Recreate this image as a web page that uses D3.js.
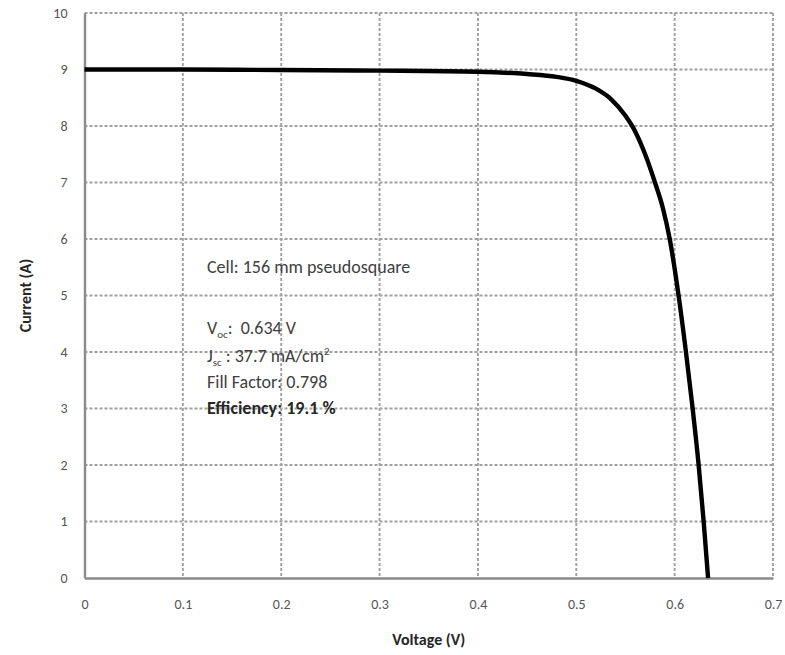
<!DOCTYPE html>
<html>
<head>
<meta charset="utf-8">
<script src="https://cdn.jsdelivr.net/npm/d3@7"></script>
<style>
  html, body { margin: 0; padding: 0; background: #fff; }
  svg { display: block; }
</style>
</head>
<body>
<svg id="chart" width="785" height="655"></svg>
<script>
// ---- data ----
const voltage = [0, 0.1, 0.2, 0.3, 0.4, 0.45, 0.48, 0.5, 0.52, 0.535, 0.55, 0.56, 0.57, 0.58, 0.588, 0.595, 0.604, 0.6115, 0.6183, 0.6244, 0.6295, 0.634];
const current = [9.0, 9.0, 8.99, 8.98, 8.96, 8.92, 8.87, 8.80, 8.66, 8.48, 8.18, 7.9, 7.5, 7.0, 6.55, 6.0, 5.0, 4.0, 3.0, 2.0, 1.0, 0.0];
const xTicks = [0, 0.1, 0.2, 0.3, 0.4, 0.5, 0.6, 0.7];
const yTicks = [0, 1, 2, 3, 4, 5, 6, 7, 8, 9, 10];
const xTitle = "Voltage (V)";
const yTitle = "Current (A)";

const svg = d3.select("#chart");
const font = "Carlito, Calibri, Lato, 'Open Sans', sans-serif";
const plot = { left: 84.5, right: 773, top: 13, bottom: 578 };

const x = d3.scaleLinear().domain([0, 0.7]).range([plot.left, plot.right]);
const y = d3.scaleLinear().domain([0, 10]).range([plot.bottom, plot.top]);

// gridlines
const grid = svg.append("g");
grid.selectAll("line.v").data(xTicks.filter(d => d > 0)).join("line")
  .attr("x1", d => x(d)).attr("x2", d => x(d))
  .attr("y1", plot.top).attr("y2", plot.bottom)
  .attr("stroke", "#a0a0a0").attr("stroke-width", 1.9)
  .attr("stroke-dasharray", "3,2");
grid.selectAll("line.h").data(yTicks.filter(d => d > 0)).join("line")
  .attr("y1", d => y(d)).attr("y2", d => y(d))
  .attr("x1", plot.left).attr("x2", plot.right)
  .attr("stroke", "#a0a0a0").attr("stroke-width", 1.9)
  .attr("stroke-dasharray", "3,2");

// axes
const xAxis = d3.axisBottom(x).tickValues(xTicks).tickFormat(d => d === 0 ? "0" : d3.format(".1f")(d)).tickSize(0).tickPadding(21);
const yAxis = d3.axisLeft(y).tickValues(yTicks).tickFormat(d3.format("d")).tickSize(0).tickPadding(17);

const gx = svg.append("g").attr("transform", `translate(0,${plot.bottom})`).call(xAxis);
const gy = svg.append("g").attr("transform", `translate(${plot.left},0)`).call(yAxis);
[gx, gy].forEach(g => {
  g.select(".domain").attr("stroke", "#8a8a8a").attr("stroke-width", 2.4);
  g.selectAll("text").attr("font-family", font).attr("font-size", 14)
    .attr("fill", "#555");
});

// axis titles
svg.append("text").attr("x", (plot.left + plot.right) / 2).attr("y", 645)
  .attr("text-anchor", "middle").attr("font-family", font)
  .attr("font-size", 16).attr("font-weight", "bold").attr("fill", "#262626")
  .text(xTitle);
svg.append("text").attr("transform", `translate(31,${(plot.top + plot.bottom) / 2}) rotate(-90)`)
  .attr("text-anchor", "middle").attr("font-family", font)
  .attr("font-size", 16).attr("font-weight", "bold").attr("fill", "#262626")
  .text(yTitle);

// curve
const line = d3.line().x((d, i) => x(voltage[i])).y(d => y(d)).curve(d3.curveMonotoneX);
svg.append("path").datum(current).attr("d", line)
  .attr("fill", "none").attr("stroke", "#000").attr("stroke-width", 4.4)
  .attr("stroke-linejoin", "round");

// annotation
const ann = svg.append("g").attr("font-family", font).attr("font-size", 18).attr("fill", "#404040");
ann.append("text").attr("x", 207).attr("y", 273).text("Cell: 156 mm pseudosquare");
const t1 = ann.append("text").attr("x", 207).attr("y", 334);
t1.append("tspan").text("V");
t1.append("tspan").attr("font-size", 11).attr("dy", 4).text("oc");
t1.append("tspan").attr("dy", -4).text(":\u00a0 0.634 V");
const t2 = ann.append("text").attr("x", 207).attr("y", 362);
t2.append("tspan").text("J");
t2.append("tspan").attr("font-size", 11).attr("dy", 4).text("sc");
t2.append("tspan").attr("dy", -4).text(" : 37.7 mA/cm");
t2.append("tspan").attr("font-size", 11).attr("dy", -7).text("2");
ann.append("text").attr("x", 207).attr("y", 388).text("Fill Factor: 0.798");
ann.append("text").attr("x", 207).attr("y", 414).attr("font-weight", "bold").attr("fill", "#262626").text("Efficiency: 19.1 %");
</script>
</body>
</html>
